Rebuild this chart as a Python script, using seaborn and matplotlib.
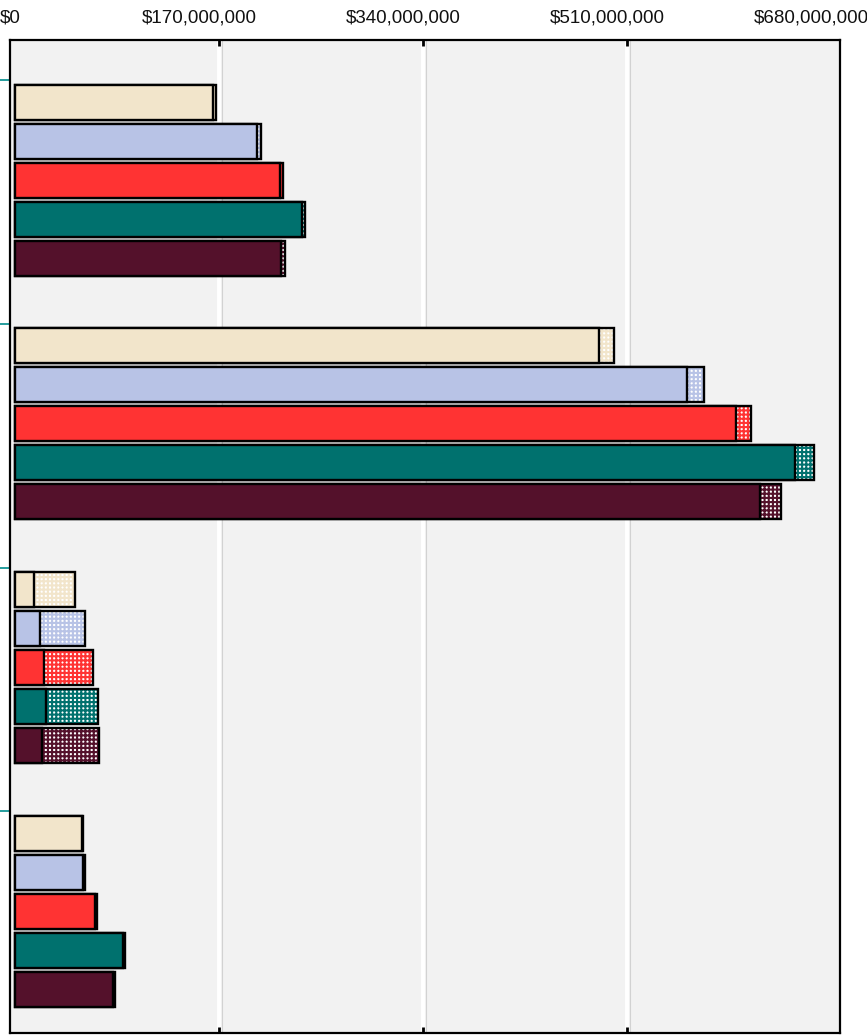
import numpy as np
import pandas as pd
import matplotlib.pyplot as plt
import seaborn as sns
from matplotlib.patches import Rectangle
from matplotlib.transforms import ScaledTranslation


groups = ['Group 1', 'Group 2', 'Group 3', 'Group 4']
series = ['Series A', 'Series B', 'Series C', 'Series D', 'Series E']
colors = ['#F2E5CB', '#B8C3E6', '#FF3333', '#00716E', '#54112B']

# solid part of each bar (dollars), one list per group
solid_g1 = [165e6, 202e6, 221e6, 239e6, 222e6]
solid_g2 = [487e6, 560e6, 601e6, 650e6, 621e6]
solid_g3 = [16e6, 21e6, 24e6, 26e6, 22.5e6]
solid_g4 = [56e6, 57e6, 67e6, 90e6, 82e6]

# checkered extension on top of the solid part
extra_g1 = [2.8e6, 2.8e6, 2.6e6, 3e6, 3e6]
extra_g2 = [12.5e6, 14e6, 12.5e6, 16e6, 17e6]
extra_g3 = [34e6, 37.5e6, 41.5e6, 43e6, 47.5e6]
extra_g4 = [0.6e6, 1.5e6, 1.5e6, 1.8e6, 1.8e6]

tick_values = [0, 170e6, 340e6, 510e6, 680e6]
tick_labels = ['$0', '$170,000,000', '$340,000,000', '$510,000,000', '$680,000,000']


def build_frame():
    '''
    OUTPUT
    long dataframe with group, series, solid and total value per bar
    '''
    solids = [solid_g1, solid_g2, solid_g3, solid_g4]
    extras = [extra_g1, extra_g2, extra_g3, extra_g4]
    rows = []
    for g, s_list, e_list in zip(groups, solids, extras):
        for name, s, e in zip(series, s_list, e_list):
            rows.append({'group': g, 'series': name, 'solid': s, 'total': s + e})
    return pd.DataFrame(rows)


df = build_frame()

sns.set_theme(style='white')
plt.rcParams['font.family'] = ['Liberation Sans', 'DejaVu Sans']
plt.rcParams['hatch.linewidth'] = 1.5

fig = plt.figure(figsize=(8.67, 10.36), dpi=100)
ax = fig.add_axes([10 / 867, 3 / 1036, 830 / 867, 993 / 1036])
ax.set_facecolor('#F2F2F2')

# gridlines (white with a faint grey shadow) behind the bars
shift = ScaledTranslation(3 / 100, 0, fig.dpi_scale_trans)
for v in tick_values[1:-1]:
    shadow = ax.axvline(v, color='#D2D2D2', lw=0.8, zorder=0.4)
    shadow.set_transform(shadow.get_transform() + shift)
    ax.axvline(v, color='white', lw=2.8, zorder=0.5)

# totals first, turned into the checkered part
sns.barplot(data=df, y='group', x='total', hue='series', palette=colors, orient='h',
            width=0.8, gap=0.1, saturation=1, errorbar=None, legend=False, ax=ax)
for p in list(ax.patches):
    col = p.get_facecolor()
    p.set_facecolor('white')
    p.set_edgecolor(col)
    p.set_hatch('++++')
    p.set_linewidth(0)
    ax.add_patch(Rectangle(p.get_xy(), p.get_width(), p.get_height(),
                           fill=False, edgecolor='black', lw=1.7, zorder=p.get_zorder()))

# solid part drawn over it
sns.barplot(data=df, y='group', x='solid', hue='series', palette=colors, orient='h',
            width=0.8, gap=0.1, saturation=1, errorbar=None, legend=False, ax=ax,
            edgecolor='black', linewidth=1.7)

ax.set_xlim(-4e6, 687.5e6)
ax.set_ylim(3.5, -0.575)
ax.set_xlabel('')
ax.set_ylabel('')

ax.set_xticks(tick_values)
ax.set_xticklabels(tick_labels)
ax.tick_params(axis='x', top=True, bottom=True, labeltop=True, labelbottom=False,
               direction='in', length=4, width=2, color='black', pad=10,
               labelsize=13.5, labelcolor='#111111')
ticks = ax.xaxis.get_major_ticks()
for i, t in enumerate(ticks):
    dx = -5 if i == 0 else -20
    t.label2.set_transform(t.label2.get_transform() + ScaledTranslation(dx / 100, 0, fig.dpi_scale_trans))
for t in (ticks[0], ticks[-1]):
    t.tick1line.set_visible(False)
    t.tick2line.set_visible(False)

ax.set_yticks(np.arange(len(groups)) - 0.41)
ax.set_yticklabels([''] * len(groups))
ax.tick_params(axis='y', left=True, direction='out', length=7.5, width=1.2, color='#008C8C')

for s in ax.spines.values():
    s.set_visible(True)
    s.set_color('black')
    s.set_linewidth(1.6)

fig.savefig('out.png', dpi=100)
